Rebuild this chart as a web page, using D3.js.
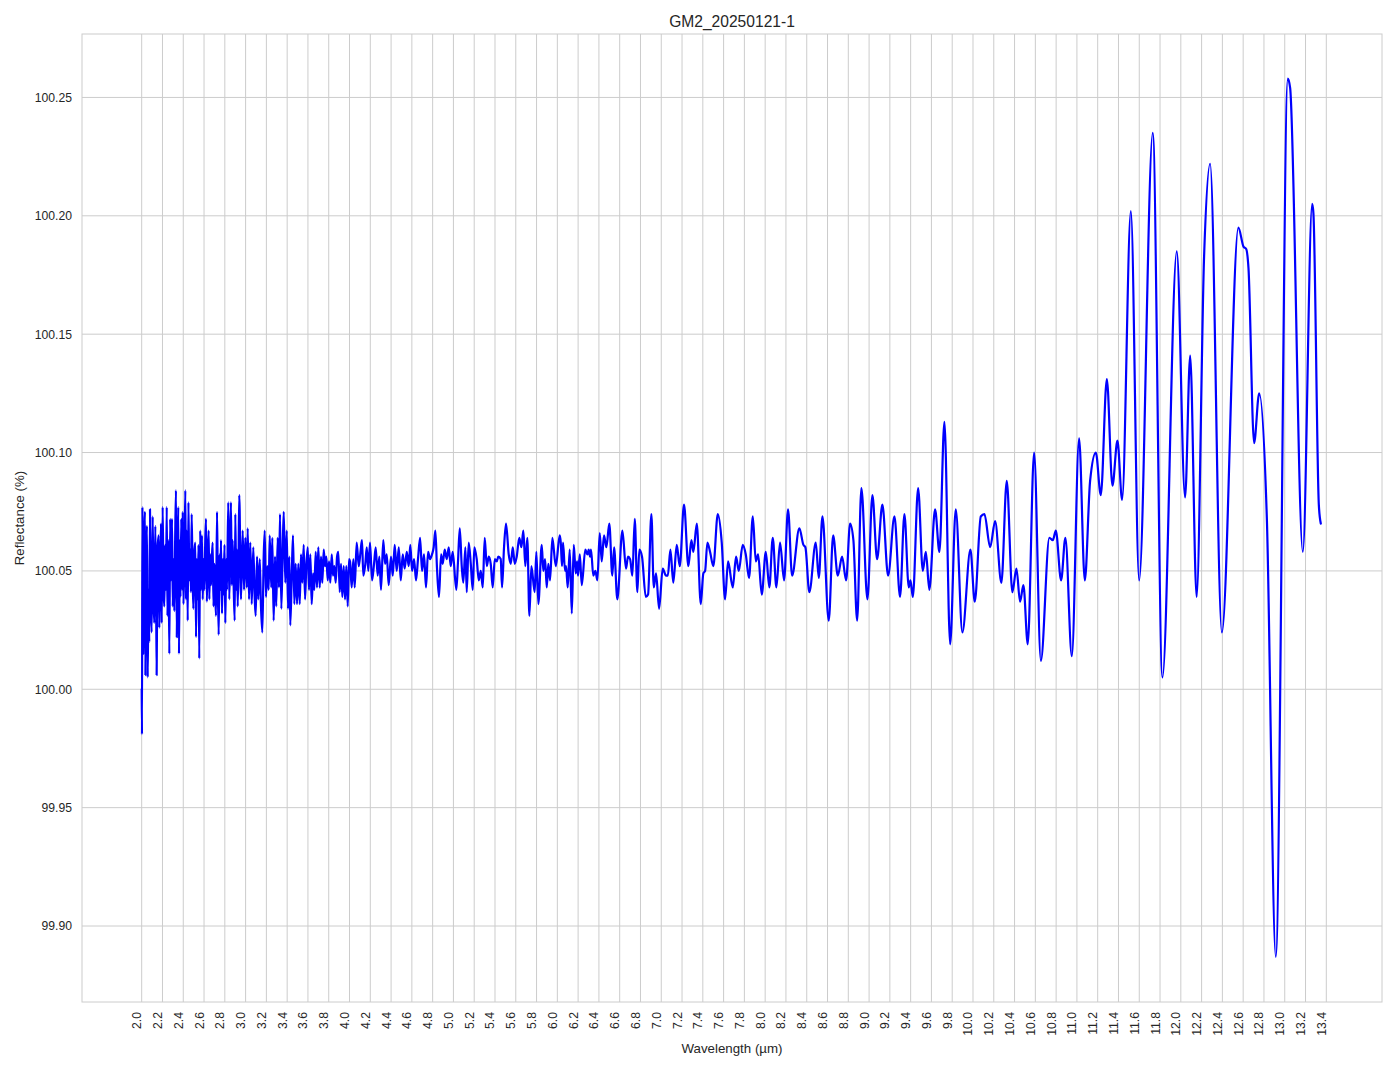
<!DOCTYPE html>
<html><head><meta charset="utf-8">
<script src="https://cdn.jsdelivr.net/npm/d3@7"></script>
<style>
body{margin:0;background:#fff}
svg{display:block}
text{font-family:"Liberation Sans",Arial,sans-serif;fill:#262626}
</style>
</head><body>
<svg id="chart" width="1394" height="1069"></svg>
<script>
const chartTitle = "GM2_20250121-1";
const xLabel = "Wavelength (µm)";
const yLabel = "Reflectance (%)";
const xTickLabels = ["2.0","2.2","2.4","2.6","2.8","3.0","3.2","3.4","3.6","3.8","4.0","4.2","4.4","4.6","4.8","5.0","5.2","5.4","5.6","5.8","6.0","6.2","6.4","6.6","6.8","7.0","7.2","7.4","7.6","7.8","8.0","8.2","8.4","8.6","8.8","9.0","9.2","9.4","9.6","9.8","10.0","10.2","10.4","10.6","10.8","11.0","11.2","11.4","11.6","11.8","12.0","12.2","12.4","12.6","12.8","13.0","13.2","13.4"];
const yTickLabels = ["99.90","99.95","100.00","100.05","100.10","100.15","100.20","100.25"];

// [wavelength (µm), reflectance (%)]
const spectrum2to3 = [[2.000,100.000],[2.003,99.981],[2.007,100.077],[2.015,100.015],[2.022,100.055],[2.032,100.075],[2.036,100.006],[2.043,100.055],[2.051,100.069],[2.058,100.005],[2.065,100.042],[2.073,100.020],[2.080,100.076],[2.088,100.038],[2.096,100.024],[2.106,100.073],[2.114,100.038],[2.121,100.028],[2.131,100.069],[2.138,100.046],[2.144,100.006],[2.152,100.059],[2.164,100.065],[2.169,100.026],[2.178,100.050],[2.186,100.070],[2.192,100.028],[2.202,100.077],[2.210,100.042],[2.218,100.035],[2.226,100.061],[2.234,100.042],[2.241,100.077],[2.248,100.031],[2.257,100.063],[2.266,100.015],[2.274,100.072],[2.282,100.046],[2.292,100.072],[2.299,100.035],[2.307,100.055],[2.314,100.033],[2.322,100.063],[2.330,100.084],[2.338,100.022],[2.345,100.055],[2.352,100.077],[2.359,100.015],[2.367,100.063],[2.373,100.039],[2.381,100.072],[2.388,100.042],[2.395,100.075],[2.402,100.036],[2.411,100.055],[2.420,100.084],[2.426,100.038],[2.434,100.067],[2.443,100.029],[2.450,100.079],[2.458,100.046],[2.467,100.059],[2.474,100.041],[2.481,100.074],[2.489,100.050],[2.497,100.034],[2.505,100.057],[2.516,100.062],[2.523,100.022],[2.530,100.055],[2.539,100.038],[2.547,100.061],[2.554,100.013],[2.563,100.067],[2.571,100.042],[2.580,100.065],[2.587,100.038],[2.596,100.055],[2.603,100.042],[2.611,100.061],[2.619,100.072],[2.627,100.037],[2.635,100.055],[2.645,100.067],[2.651,100.038],[2.659,100.057],[2.667,100.044],[2.675,100.055],[2.683,100.062],[2.691,100.035],[2.700,100.053],[2.707,100.042],[2.715,100.031],[2.725,100.075],[2.732,100.046],[2.741,100.023],[2.749,100.057],[2.757,100.042],[2.763,100.063],[2.773,100.032],[2.781,100.055],[2.788,100.040],[2.797,100.061],[2.805,100.028],[2.813,100.055],[2.821,100.042],[2.833,100.079],[2.843,100.038],[2.852,100.061],[2.859,100.079],[2.867,100.044],[2.875,100.063],[2.884,100.046],[2.895,100.029],[2.901,100.074],[2.910,100.042],[2.917,100.059],[2.924,100.035],[2.932,100.055],[2.939,100.082]];

const spectrum3to4 = [[2.956,100.038],[2.972,100.067],[2.985,100.042],[2.997,100.064],[3.011,100.043],[3.020,100.068],[3.033,100.038],[3.045,100.062],[3.059,100.036],[3.074,100.060],[3.088,100.038],[3.097,100.031],[3.110,100.056],[3.122,100.038],[3.136,100.055],[3.148,100.035],[3.161,100.024],[3.174,100.056],[3.184,100.067],[3.196,100.039],[3.209,100.052],[3.222,100.042],[3.232,100.065],[3.247,100.043],[3.257,100.064],[3.270,100.029],[3.283,100.056],[3.295,100.035],[3.309,100.064],[3.321,100.043],[3.331,100.074],[3.344,100.034],[3.357,100.059],[3.367,100.075],[3.382,100.045],[3.396,100.067],[3.408,100.034],[3.421,100.056],[3.430,100.027],[3.444,100.048],[3.456,100.065],[3.469,100.036],[3.482,100.053],[3.495,100.036],[3.507,100.053],[3.521,100.036],[3.533,100.057],[3.546,100.045],[3.559,100.061],[3.572,100.038],[3.584,100.052],[3.598,100.060],[3.610,100.042],[3.623,100.057],[3.636,100.036],[3.649,100.049],[3.661,100.042],[3.675,100.058],[3.687,100.043],[3.700,100.060],[3.713,100.043],[3.726,100.056],[3.738,100.045],[3.752,100.059],[3.764,100.052],[3.777,100.056],[3.790,100.046],[3.803,100.054],[3.815,100.045],[3.829,100.057],[3.841,100.048],[3.854,100.052],[3.867,100.045],[3.880,100.056],[3.892,100.058],[3.906,100.041],[3.918,100.053],[3.931,100.039],[3.944,100.052],[3.957,100.038],[3.969,100.052],[3.983,100.035],[3.995,100.055]];

const spectrum4to6 = [[4.005,100.054],[4.021,100.043],[4.037,100.055],[4.050,100.043],[4.069,100.062],[4.089,100.052],[4.108,100.059],[4.120,100.063],[4.133,100.048],[4.152,100.053],[4.166,100.060],[4.181,100.050],[4.197,100.062],[4.217,100.046],[4.236,100.053],[4.252,100.060],[4.271,100.048],[4.287,100.056],[4.303,100.042],[4.325,100.063],[4.342,100.053],[4.358,100.057],[4.377,100.044],[4.399,100.056],[4.416,100.048],[4.435,100.061],[4.454,100.050],[4.474,100.060],[4.493,100.046],[4.512,100.057],[4.531,100.051],[4.551,100.058],[4.570,100.052],[4.585,100.061],[4.602,100.050],[4.621,100.055],[4.640,100.046],[4.659,100.055],[4.679,100.064],[4.698,100.050],[4.717,100.057],[4.736,100.043],[4.756,100.058],[4.775,100.055],[4.794,100.057],[4.810,100.060],[4.826,100.067],[4.842,100.051],[4.861,100.039],[4.881,100.057],[4.897,100.053],[4.916,100.059],[4.936,100.055],[4.955,100.060],[4.974,100.052],[4.993,100.058],[5.028,100.042],[5.044,100.054],[5.061,100.068],[5.080,100.052],[5.095,100.045],[5.115,100.060],[5.128,100.041],[5.147,100.062],[5.167,100.053],[5.186,100.042],[5.201,100.060],[5.224,100.055],[5.244,100.046],[5.263,100.050],[5.282,100.043],[5.301,100.064],[5.321,100.052],[5.340,100.056],[5.359,100.053],[5.378,100.043],[5.398,100.055],[5.417,100.054],[5.432,100.056],[5.455,100.055],[5.468,100.043],[5.487,100.060],[5.506,100.070],[5.532,100.057],[5.552,100.053],[5.571,100.060],[5.590,100.053],[5.609,100.056],[5.634,100.064],[5.654,100.060],[5.673,100.067],[5.692,100.052],[5.711,100.064],[5.731,100.031],[5.750,100.052],[5.782,100.041],[5.798,100.058],[5.817,100.036],[5.850,100.061],[5.865,100.050],[5.882,100.055],[5.898,100.043],[5.913,100.053],[5.930,100.046],[5.952,100.064],[5.985,100.052]];

const spectrum6to8 = [[6.023,100.065],[6.033,100.062],[6.045,100.052],[6.055,100.062],[6.074,100.050],[6.084,100.052],[6.100,100.043],[6.119,100.059],[6.139,100.032],[6.158,100.061],[6.177,100.049],[6.190,100.054],[6.199,100.048],[6.216,100.057],[6.235,100.044],[6.269,100.059],[6.289,100.057],[6.302,100.059],[6.315,100.056],[6.324,100.059],[6.346,100.048],[6.366,100.050],[6.385,100.046],[6.408,100.066],[6.427,100.054],[6.449,100.065],[6.472,100.060],[6.500,100.070],[6.529,100.048],[6.546,100.060],[6.577,100.038],[6.626,100.067],[6.661,100.051],[6.680,100.056],[6.700,100.055],[6.722,100.048],[6.745,100.072],[6.770,100.041],[6.789,100.059],[6.815,100.056],[6.851,100.039],[6.873,100.040],[6.905,100.074],[6.928,100.043],[6.950,100.049],[6.979,100.034],[7.014,100.051],[7.046,100.048],[7.063,100.048],[7.088,100.059],[7.116,100.045],[7.149,100.061],[7.178,100.052],[7.219,100.078],[7.261,100.052],[7.290,100.063],[7.309,100.058],[7.342,100.070],[7.380,100.036],[7.405,100.049],[7.422,100.050],[7.444,100.062],[7.470,100.058],[7.501,100.052],[7.544,100.074],[7.582,100.062],[7.614,100.038],[7.643,100.054],[7.688,100.043],[7.720,100.056],[7.746,100.050],[7.784,100.061],[7.813,100.057],[7.845,100.047],[7.881,100.073],[7.910,100.054],[7.932,100.057],[7.967,100.040]];

const spectrum8to10 = [[8.006,100.058],[8.040,100.043],[8.073,100.064],[8.108,100.043],[8.143,100.062],[8.182,100.046],[8.220,100.076],[8.259,100.048],[8.329,100.068],[8.368,100.061],[8.387,100.060],[8.425,100.041],[8.487,100.062],[8.516,100.047],[8.551,100.073],[8.612,100.029],[8.654,100.065],[8.699,100.048],[8.740,100.056],[8.779,100.046],[8.817,100.070],[8.849,100.063],[8.885,100.029],[8.926,100.085],[8.984,100.038],[9.032,100.082],[9.077,100.055],[9.128,100.078],[9.183,100.048],[9.244,100.073],[9.298,100.039],[9.340,100.074],[9.382,100.043],[9.398,100.046],[9.421,100.039],[9.472,100.085],[9.517,100.050],[9.546,100.058],[9.580,100.042],[9.635,100.076],[9.677,100.058],[9.725,100.113],[9.780,100.019],[9.834,100.076],[9.898,100.024],[9.975,100.059]];

const spectrum10to12 = [[10.017,100.037],[10.075,100.073],[10.110,100.074],[10.165,100.060],[10.213,100.071],[10.273,100.045],[10.325,100.088],[10.379,100.041],[10.418,100.051],[10.453,100.037],[10.485,100.044],[10.527,100.019],[10.588,100.100],[10.653,100.012],[10.735,100.064],[10.768,100.063],[10.797,100.067],[10.848,100.046],[10.889,100.064],[10.951,100.014],[11.021,100.106],[11.076,100.046],[11.127,100.088],[11.182,100.100],[11.230,100.082],[11.288,100.131],[11.342,100.086],[11.390,100.105],[11.435,100.080],[11.519,100.202],[11.599,100.046],[11.730,100.235],[11.823,100.005],[11.961,100.185]];

const spectrum12to13 = [[12.041,100.081],[12.090,100.141],[12.152,100.039],[12.224,100.183],[12.282,100.222],[12.395,100.024],[12.554,100.195],[12.603,100.187],[12.629,100.186],[12.651,100.178],[12.705,100.104],[12.754,100.125],[12.828,100.072],[12.914,99.887],[13.030,100.258],[13.052,100.254],[13.174,100.058],[13.264,100.205],[13.276,100.201],[13.328,100.078],[13.347,100.070]];

const spectrum = [].concat(spectrum2to3, spectrum3to4, spectrum4to6, spectrum6to8, spectrum8to10, spectrum10to12, spectrum12to13);

const margin = {left: 82, top: 34, right: 1382, bottom: 1002};
const svg = d3.select("#chart");

const x = d3.scaleLinear().domain([1.4256, 13.936]).range([margin.left, margin.right]);
const y = d3.scaleLinear().domain([99.8679, 100.2768]).range([margin.bottom, margin.top]);

const gridColor = "#cccccc";

// horizontal grid + y tick labels
const yVals = yTickLabels.map(Number);
svg.append("g").selectAll("line").data(yVals).join("line")
  .attr("x1", margin.left).attr("x2", margin.right)
  .attr("y1", d => y(d)).attr("y2", d => y(d))
  .attr("stroke", gridColor).attr("stroke-width", 1);
svg.append("g").selectAll("text").data(yTickLabels).join("text")
  .attr("x", 72).attr("y", d => y(+d) + 4.4)
  .attr("text-anchor", "end").attr("font-size", 12.2)
  .text(d => d);

// vertical grid + x tick labels
const xVals = xTickLabels.map(Number);
svg.append("g").selectAll("line").data(xVals).join("line")
  .attr("x1", d => x(d)).attr("x2", d => x(d))
  .attr("y1", margin.top).attr("y2", margin.bottom)
  .attr("stroke", gridColor).attr("stroke-width", 1);
svg.append("g").selectAll("text").data(xTickLabels).join("text")
  .attr("transform", d => `translate(${x(+d) - 0.5},1012) rotate(-90)`)
  .attr("text-anchor", "end").attr("font-size", 12.2)
  .text(d => d);

// frame
svg.append("rect")
  .attr("x", margin.left).attr("y", margin.top)
  .attr("width", margin.right - margin.left).attr("height", margin.bottom - margin.top)
  .attr("fill", "none").attr("stroke", gridColor).attr("stroke-width", 1);

// clip
svg.append("clipPath").attr("id", "plotclip").append("rect")
  .attr("x", margin.left).attr("y", margin.top)
  .attr("width", margin.right - margin.left).attr("height", margin.bottom - margin.top);

const line = d3.line().x(d => x(d[0])).y(d => y(d[1])).curve(d3.curveMonotoneX);
svg.append("path").datum(spectrum)
  .attr("clip-path", "url(#plotclip)")
  .attr("d", line)
  .attr("fill", "none").attr("stroke", "#0000ff")
  .attr("stroke-width", 2.2).attr("stroke-linejoin", "round").attr("stroke-linecap", "round");

// title & labels
svg.append("text").attr("x", (margin.left + margin.right) / 2).attr("y", 26.5)
  .attr("text-anchor", "middle").attr("font-size", 15.6).attr("fill", "#000").text(chartTitle);
svg.append("text").attr("x", (margin.left + margin.right) / 2).attr("y", 1053)
  .attr("text-anchor", "middle").attr("font-size", 13.3).text(xLabel);
svg.append("text").attr("transform", `translate(23.5,${(margin.top + margin.bottom) / 2}) rotate(-90)`)
  .attr("text-anchor", "middle").attr("font-size", 13.3).text(yLabel);
</script>
</body></html>
